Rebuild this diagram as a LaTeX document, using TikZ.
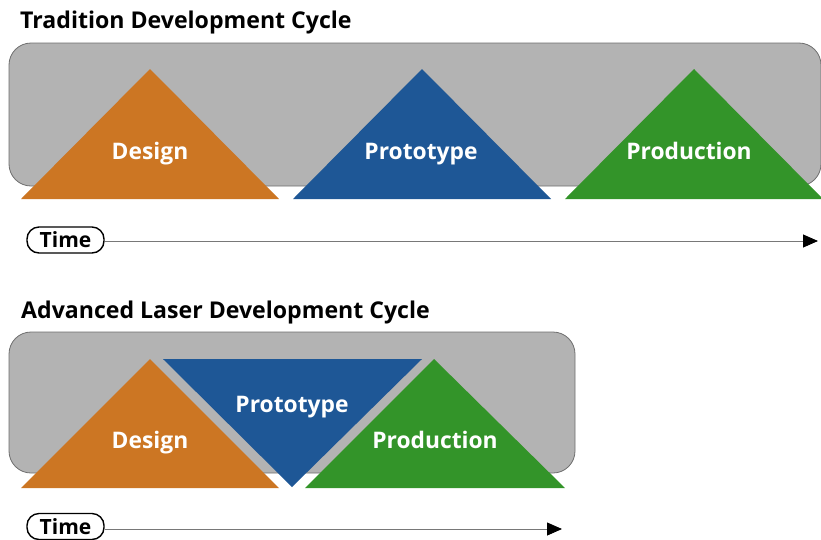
\documentclass[tikz,border=0pt]{standalone}
\usepackage{fontspec}
\setmainfont{Open Sans}
\usetikzlibrary{arrows.meta}
\definecolor{boxgray}{RGB}{179,179,179}
\definecolor{boxedge}{RGB}{110,110,110}
\definecolor{cdesign}{RGB}{204,118,35}
\definecolor{cproto}{RGB}{30,87,150}
\definecolor{cprod}{RGB}{51,148,41}
\definecolor{axisgray}{RGB}{120,120,120}
\tikzset{
  panel/.style={fill=boxgray, draw=boxedge, line width=0.8pt, rounded corners=22pt},
  lbl/.style={text=white, font=\bfseries\fontsize{22.8}{26}\selectfont, anchor=base, inner sep=0pt},
  title/.style={text=black, font=\bfseries\fontsize{23.1}{26}\selectfont, anchor=base west, inner sep=0pt},
  timepill/.style={draw=black, line width=1.4pt, rounded corners=12pt, minimum width=77pt, minimum height=26pt, inner sep=0pt, font=\bfseries\fontsize{21}{24}\selectfont},
  timeaxis/.style={draw=axisgray, line width=0.9pt, -{Triangle[length=15pt,width=13pt,color=black]}}
}
\begin{document}
\begin{tikzpicture}[x=1pt,y=-1pt]
\useasboundingbox (0,0) rectangle (821,539);
% ---- top: traditional ----
\node[title] (t1) at (20,28) {Tradition Development Cycle};
\draw[panel] (9,43) rectangle (821,186);
\fill[cdesign] (21,199) -- (150,69) -- (279,199) -- cycle;
\fill[cproto] (293,199) -- (422,69) -- (551,199) -- cycle;
\fill[cprod] (565,199) -- (694,69) -- (823,199) -- cycle;
\node[lbl] (d1) at (150,159) {Design};
\node[lbl] (p1) at (421,159) {Prototype};
\node[lbl] (r1) at (689,159) {Production};
\node[timepill] (time1) at (65.5,240) {Time};
\coordinate (end1) at (818,241);
\draw[timeaxis] (time1.east |- end1) -- (end1);
% ---- bottom: advanced ----
\node[title] (t2) at (21,318) {Advanced Laser Development Cycle};
\draw[panel] (9,332) rectangle (575,473);
\fill[cdesign] (21,488) -- (150,359) -- (279,488) -- cycle;
\fill[cproto] (163,359) -- (422,359) -- (292,487) -- cycle;
\fill[cprod] (305,488) -- (434,359) -- (565,488) -- cycle;
\node[lbl] (d2) at (150,448) {Design};
\node[lbl] (p2) at (292,412) {Prototype};
\node[lbl] (r2) at (435,448) {Production};
\node[timepill] (time2) at (65.5,526.5) {Time};
\coordinate (end2) at (562,529);
\draw[timeaxis] (time2.east |- end2) -- (end2);
\end{tikzpicture}
\end{document}
